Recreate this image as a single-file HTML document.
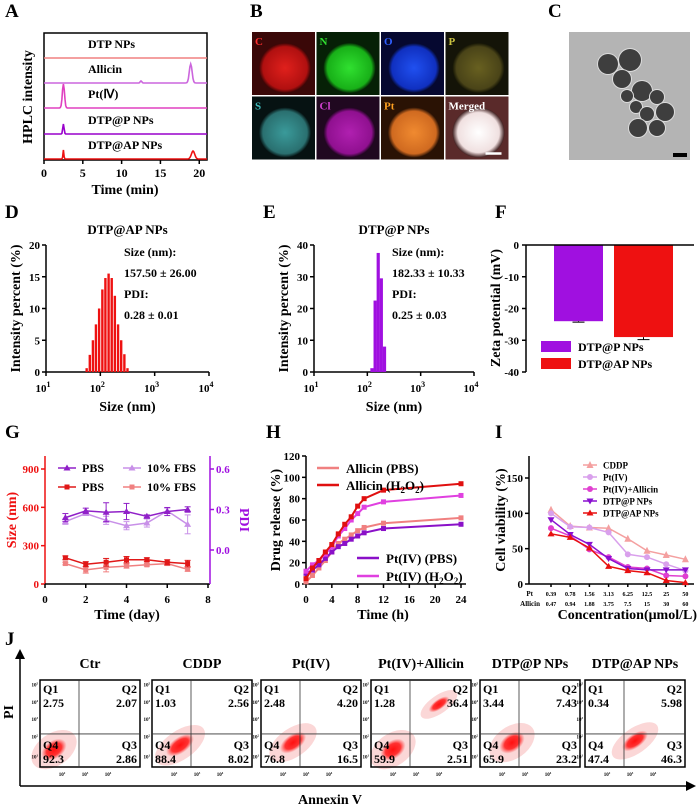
<!DOCTYPE html>
<html><head><meta charset="utf-8"><style>
body{margin:0;background:#fff}
svg{display:block;font-family:"Liberation Serif",serif;font-weight:bold}
</style></head><body>
<svg id="fig" width="700" height="810" viewBox="0 0 700 810" xmlns="http://www.w3.org/2000/svg">
<defs>
<radialGradient id="gR"><stop offset="0" stop-color="#e0201c"/><stop offset="0.85" stop-color="#b01010"/><stop offset="1" stop-color="#3a0505"/></radialGradient>
<radialGradient id="gN"><stop offset="0" stop-color="#30e030"/><stop offset="0.85" stop-color="#18b018"/><stop offset="1" stop-color="#052a05"/></radialGradient>
<radialGradient id="gO"><stop offset="0" stop-color="#2050f0"/><stop offset="0.85" stop-color="#1030c0"/><stop offset="1" stop-color="#05082a"/></radialGradient>
<radialGradient id="gP"><stop offset="0" stop-color="#686020"/><stop offset="0.85" stop-color="#4a4418"/><stop offset="1" stop-color="#151505"/></radialGradient>
<radialGradient id="gS"><stop offset="0" stop-color="#3a9a9a"/><stop offset="0.85" stop-color="#2a7070"/><stop offset="1" stop-color="#061515"/></radialGradient>
<radialGradient id="gCl"><stop offset="0" stop-color="#b020b0"/><stop offset="0.85" stop-color="#901090"/><stop offset="1" stop-color="#200520"/></radialGradient>
<radialGradient id="gPt"><stop offset="0" stop-color="#f08a30"/><stop offset="0.85" stop-color="#d06a20"/><stop offset="1" stop-color="#301505"/></radialGradient>
<radialGradient id="gM"><stop offset="0" stop-color="#ffffff"/><stop offset="0.8" stop-color="#f0e0e0"/><stop offset="1" stop-color="#402020"/></radialGradient>
<radialGradient id="gDot"><stop offset="0" stop-color="#ff1010" stop-opacity="1"/><stop offset="0.6" stop-color="#ff2020" stop-opacity="0.9"/><stop offset="1" stop-color="#ff4040" stop-opacity="0"/></radialGradient>
</defs>
</svg>
<script>
const NS="http://www.w3.org/2000/svg";
const svg=document.getElementById('fig');
function E(tag,a,name,parent){
  const el=document.createElementNS(NS,tag);
  for(const k in a) el.setAttribute(k,a[k]);
  
  
  (parent||svg).appendChild(el);
  return el;
}
function T(x,y,s,size,name,o){
  o=o||{};
  const el=E('text',{x:x,y:y,'font-size':size,fill:o.fill||'#000','text-anchor':o.anchor||'start'},name);
  if(o.rot!==undefined) el.setAttribute('transform','rotate('+o.rot+' '+x+' '+y+')');
  if(o.html) el.innerHTML=s; else el.textContent=s;
  return el;
}
function L(x1,y1,x2,y2,name,c,w){return E('line',{x1:x1,y1:y1,x2:x2,y2:y2,stroke:c||'#000','stroke-width':w||1.5},name);}
function lin(d0,d1,r0,r1){return v=>r0+(v-d0)/(d1-d0)*(r1-r0);}
function poly(pts,c,w,name){return E('polyline',{points:pts.map(p=>p[0].toFixed(1)+','+p[1].toFixed(1)).join(' '),fill:'none',stroke:c,'stroke-width':w||1.5},name);}
function marker(x,y,type,col,name){
  if(type==='tri') E('polygon',{points:(x)+','+(y-3.5)+' '+(x-3.5)+','+(y+2.5)+' '+(x+3.5)+','+(y+2.5),fill:col},name);
  else if(type==='dtri') E('polygon',{points:(x)+','+(y+3.5)+' '+(x-3.5)+','+(y-2.5)+' '+(x+3.5)+','+(y-2.5),fill:col},name);
  else if(type==='circ') E('circle',{cx:x,cy:y,r:3,fill:col},name);
  else if(type==='star') E('polygon',{points:(x)+','+(y-4)+' '+(x-3.5)+','+(y+3)+' '+(x+3.5)+','+(y+3),fill:col},name);
  else E('rect',{x:x-2.5,y:y-2.5,width:5,height:5,fill:col},name);
}

/* ---------- panel letters ---------- */
[['A',5,17],['B',250,17],['C',548,17],['D',5,218],['E',263,218],['F',495,218],['G',5,438],['H',266,438],['I',495,438],['J',5,645]].forEach(p=>T(p[1],p[2],p[0],19,'panel-label-'+p[0].toLowerCase()));

/* ---------- A: HPLC ---------- */
const hplcNames=['DTP NPs','Allicin','Pt(Ⅳ)','DTP@P NPs','DTP@AP NPs'];
const hplcColors=['#f08080','#cc66dd','#e040c0','#9900cc','#ee1111'];
const hplcBase=[58,83,108,134,159];
const hplcPeakTimes=[[],[12.5,18.9],[2.5],[2.5],[2.5,19.2]];
const hplcPeakHeights=[[],[2,19],[24],[10],[9,8]];
const hplcPeakWidths=[[],[0.15,0.25],[0.2],[0.12],[0.08,0.3]];
const hplcTicks=[0,5,10,15,20];
(function(){
  const x=lin(0,21,44,207);
  E('rect',{x:44,y:33,width:163,height:127,fill:'none',stroke:'#000','stroke-width':1.5},'hplc-plot-frame');
  hplcTicks.forEach(t=>{L(x(t),160,x(t),164,'hplc-x-tick');T(x(t),177,String(t),12,'hplc-x-tick-label',{anchor:'middle'});});
  hplcNames.forEach((n,i)=>{
    const pts=[];
    for(let k=0;k<=210;k++){const t=k/10;let h=0;
      hplcPeakTimes[i].forEach((pt,j)=>{h+=hplcPeakHeights[i][j]*Math.exp(-Math.pow((t-pt)/hplcPeakWidths[i][j],2));});
      pts.push([x(t),hplcBase[i]-h]);}
    poly(pts,hplcColors[i],1.6,'hplc-trace-'+i);
    T(88,hplcBase[i]-10,n,12,'hplc-trace-label',{});
  });
  T(125,194,'Time (min)',14,'hplc-x-axis-title',{anchor:'middle'});
  T(32,97,'HPLC intensity',14,'hplc-y-axis-title',{anchor:'middle',rot:-90});
})();

/* ---------- B: EDS mapping ---------- */
const edsLabels=['C','N','O','P','S','Cl','Pt','Merged'];
const edsColors=['#ff3030','#30e030','#3060ff','#c8c040','#40c0c0','#d040d0','#ffa020','#ffffff'];
const edsFills=['gR','gN','gO','gP','gS','gCl','gPt','gM'];
const edsBg=['#3a0808','#062006','#060830','#141408','#061212','#200820','#2a1204','#5a2a2a'];
edsLabels.forEach((lab,i)=>{
  const col=i%4,row=Math.floor(i/4);
  const x0=252+col*64.5,y0=32+row*64.5;
  E('rect',{x:x0,y:y0,width:63,height:63,fill:edsBg[i]},'eds-tile-'+lab.toLowerCase());
  E('ellipse',{cx:x0+33,cy:y0+36,rx:26,ry:25,fill:'url(#'+edsFills[i]+')'},'eds-particle');
  T(x0+3,y0+13,lab,11,'eds-element-label',{fill:edsColors[i]});
  if(lab==='Merged') L(x0+40,y0+57,x0+56,y0+57,'eds-scale-bar','#fff',2.5);
});

/* ---------- C: TEM ---------- */
E('rect',{x:569,y:32,width:121,height:128,fill:'#b4b4b4'},'tem-image');
const temCircles=[[608,64,10],[630,60,11],[622,79,9],[642,91,10],[627,96,6],[657,97,7],[636,107,6],[647,114,7],[665,112,9],[638,128,9],[657,128,8]];
temCircles.forEach(c=>{E('circle',{cx:c[0],cy:c[1],r:c[2]+1,fill:'#dcdcdc'},'tem-halo');E('circle',{cx:c[0],cy:c[1],r:c[2],fill:'#3e3e3e'},'tem-nanoparticle');});
E('rect',{x:673,y:153,width:14,height:4,fill:'#000'},'tem-scale-bar');

/* ---------- D & E: DLS histograms ---------- */
const dlsDSizes=[56,64,73,83,95,109,124,142,162,185,212,242,277,316];
const dlsDValues=[0.6,2.7,5,7.5,10,13,14.8,15.5,14.8,12,7.5,5,2.8,0.6];
const dlsESizes=[122,140,160,183,210];
const dlsEValues=[1.2,22.5,37.5,29.5,8];
function dls(x0,x1,y0,y1,ymax,step,sizes,vals,color,title,texts,pfx,bw){
  const x=v=>x0+(Math.log10(v)-1)/3*(x1-x0);
  const y=lin(0,ymax,y1,y0);
  T((x0+x1)/2,234,title,13,pfx+'-title',{anchor:'middle'});
  L(x0,y0,x0,y1,pfx+'-y-axis');L(x0,y1,x1,y1,pfx+'-x-axis');
  for(let v=0;v<=ymax;v+=step){L(x0-4,y(v),x0,y(v),pfx+'-y-tick');T(x0-6,y(v)+4,String(v),11,pfx+'-y-tick-label',{anchor:'end'});}
  [1,2,3,4].forEach(e=>{L(x(Math.pow(10,e)),y1,x(Math.pow(10,e)),y1+4,pfx+'-x-tick');T(x(Math.pow(10,e))-3,y1+20,'10<tspan dy="-5" font-size="8">'+e+'</tspan>',11,pfx+'-x-tick-label',{anchor:'middle',html:1});});
  sizes.forEach((s,i)=>E('rect',{x:x(s)-bw/2,y:y(vals[i]),width:bw,height:y1-y(vals[i]),fill:color},pfx+'-bar'));
  texts.forEach((t,i)=>T(x0+78,y0+11+i*21,t,12,pfx+'-annotation'));
  T((x0+x1)/2,411,'Size (nm)',14,pfx+'-x-axis-title',{anchor:'middle'});
  T(x0-26,(y0+y1)/2,'Intensity percent (%)',14,pfx+'-y-axis-title',{anchor:'middle',rot:-90});
}
dls(46,209,245,372,20,5,dlsDSizes,dlsDValues,'#ee1111','DTP@AP NPs',['Size (nm):','157.50 ± 26.00','PDI:','0.28 ± 0.01'],'dls-d',2.4);
dls(314,474,245,372,40,10,dlsESizes,dlsEValues,'#a010e0','DTP@P NPs',['Size (nm):','182.33 ± 10.33','PDI:','0.25 ± 0.03'],'dls-e',3.2);

/* ---------- F: Zeta ---------- */
const zetaNames=['DTP@P NPs','DTP@AP NPs'];
const zetaValues=[-24,-29];
const zetaErrors=[0.3,0.8];
const zetaColors=['#a010e0','#ee1111'];
const zetaTicks=[0,-10,-20,-30,-40];
(function(){
  const y=lin(0,-40,245,372);
  const bx=[[554,49],[614,59]];
  zetaValues.forEach((v,i)=>{
    E('rect',{x:bx[i][0],y:y(0),width:bx[i][1],height:y(v)-y(0),fill:zetaColors[i]},'zeta-bar-'+i);
    const cx=bx[i][0]+bx[i][1]/2;
    L(cx,y(v),cx,y(v-zetaErrors[i]),'zeta-error-bar','#000',1);
    L(cx-6,y(v-zetaErrors[i]),cx+6,y(v-zetaErrors[i]),'zeta-error-cap','#000',1);
  });
  L(526,245,526,372,'zeta-y-axis');L(526,245,694,245,'zeta-zero-axis');
  zetaTicks.forEach(t=>{L(522,y(t),526,y(t),'zeta-y-tick');T(519,y(t)+4,String(t),11,'zeta-y-tick-label',{anchor:'end'});});
  zetaNames.forEach((n,i)=>{E('rect',{x:541,y:341+i*17,width:30,height:11,fill:zetaColors[i]},'zeta-legend-swatch');T(578,351+i*17,n,12,'zeta-legend-label');});
  T(500,308,'Zeta potential (mV)',14,'zeta-y-axis-title',{anchor:'middle',rot:-90});
})();

/* ---------- G: stability ---------- */
const stabDays=[1,2,3,4,5,6,7];
const stabPdiPBS=[0.24,0.29,0.28,0.285,0.25,0.285,0.30];
const stabPdiFBS=[0.21,0.27,0.22,0.18,0.20,0.29,0.19];
const stabPdiPBSErr=[0.03,0.02,0.07,0.06,0.01,0.03,0.02];
const stabPdiFBSErr=[0.02,0.01,0.03,0.03,0.03,0.02,0.07];
const stabSizePBS=[205,155,170,190,190,170,160];
const stabSizeFBS=[160,110,130,140,150,160,115];
const stabSizePBSErr=[15,20,30,25,15,20,25];
const stabSizeFBSErr=[10,25,35,15,10,15,15];
const stabLeftTicks=[0,300,600,900];
const stabRightTicks=[0.0,0.3,0.6];
(function(){
  const x=lin(0,8,45,208), yl=lin(0,900,584,469), yr=lin(0,0.6,550,469);
  L(45,456,45,584,'stab-left-axis','#ee1111');L(45,584,210,584,'stab-x-axis');L(210,456,210,584,'stab-right-axis','#a010e0');
  stabLeftTicks.forEach(t=>{L(41,yl(t),45,yl(t),'stab-left-tick','#ee1111');T(39,yl(t)+4,String(t),11,'stab-left-tick-label',{anchor:'end',fill:'#ee1111'});});
  stabRightTicks.forEach(t=>{L(210,yr(t),214,yr(t),'stab-right-tick','#a010e0');T(216,yr(t)+4,t.toFixed(1),11,'stab-right-tick-label',{fill:'#a010e0'});});
  [0,2,4,6,8].forEach(t=>{L(x(t),584,x(t),588,'stab-x-tick');T(x(t),603,String(t),11,'stab-x-tick-label',{anchor:'middle'});});
  function series(vals,errs,ys,col,mk,name){
    const pts=stabDays.map((d,i)=>[x(d),ys(vals[i])]);
    stabDays.forEach((d,i)=>{L(x(d),ys(vals[i]-errs[i]),x(d),ys(vals[i]+errs[i]),name+'-error-bar',col,1);
      L(x(d)-3,ys(vals[i]+errs[i]),x(d)+3,ys(vals[i]+errs[i]),name+'-error-cap',col,1);L(x(d)-3,ys(vals[i]-errs[i]),x(d)+3,ys(vals[i]-errs[i]),name+'-error-cap',col,1);});
    poly(pts,col,1.5,name+'-line');
    pts.forEach(p=>marker(p[0],p[1],mk,col,name+'-point'));
  }
  series(stabPdiFBS,stabPdiFBSErr,yr,'#c890e8','tri','stab-pdi-fbs');
  series(stabPdiPBS,stabPdiPBSErr,yr,'#9020c8','tri','stab-pdi-pbs');
  series(stabSizeFBS,stabSizeFBSErr,yl,'#f08080','sq','stab-size-fbs');
  series(stabSizePBS,stabSizePBSErr,yl,'#e01818','sq','stab-size-pbs');
  [['PBS','#9020c8','tri',58,468],['10% FBS','#c890e8','tri',123,468],['PBS','#e01818','sq',58,487],['10% FBS','#f08080','sq',123,487]].forEach(l=>{
    L(l[3],l[4],l[3]+18,l[4],'stab-legend-line',l[1],1.5);marker(l[3]+9,l[4],l[2],l[1],'stab-legend-marker');T(l[3]+24,l[4]+4,l[0],12,'stab-legend-label');});
  T(127,619,'Time (day)',14,'stab-x-axis-title',{anchor:'middle'});
  T(16,520,'Size (nm)',14,'stab-left-axis-title',{anchor:'middle',rot:-90,fill:'#ee1111'});
  T(240,520,'PDI',14,'stab-right-axis-title',{anchor:'middle',rot:90,fill:'#a010e0'});
})();

/* ---------- H: drug release ---------- */
const relTimes=[0,1,2,3,4,5,6,7,8,9,12,24];
const relAllicinPBS=[2,8,15,22,30,38,42,46,50,53,57,62];
const relAllicinH2O2=[5,15,22,30,37,47,56,63,73,80,88,94];
const relPtPBS=[10,13,18,24,30,35,38,42,45,48,52,56];
const relPtH2O2=[12,18,22,28,35,45,52,60,66,72,77,83];
const relTicksY=[0,20,40,60,80,100,120];
const relTicksX=[0,4,8,12,16,20,24];
(function(){
  const x=lin(0,24,306,461), y=lin(0,120,584,456);
  L(306,456,306,584,'release-y-axis');L(306,584,466,584,'release-x-axis');
  relTicksY.forEach(t=>{L(302,y(t),306,y(t),'release-y-tick');T(300,y(t)+4,String(t),11,'release-y-tick-label',{anchor:'end'});});
  relTicksX.forEach(t=>{L(x(t),584,x(t),588,'release-x-tick');T(x(t),603,String(t),11,'release-x-tick-label',{anchor:'middle'});});
  [[relAllicinPBS,'#f08080','allicin-pbs'],[relPtPBS,'#8a10c8','pt-pbs'],[relPtH2O2,'#e040e0','pt-h2o2'],[relAllicinH2O2,'#e01010','allicin-h2o2']].forEach(s=>{
    const pts=relTimes.map((t,i)=>[x(t),y(s[0][i])]);
    poly(pts,s[1],2,'release-line-'+s[2]);
    pts.forEach(p=>marker(p[0],p[1],'sq',s[1],'release-point-'+s[2]));
  });
  [['Allicin (PBS)','#f08080',317,468],['Allicin (H<tspan dy="3" font-size="9">2</tspan><tspan dy="-3">O</tspan><tspan dy="3" font-size="9">2</tspan><tspan dy="-3">)</tspan>','#e01010',317,485],['Pt(IV) (PBS)','#8a10c8',357,558],['Pt(IV) (H<tspan dy="3" font-size="9">2</tspan><tspan dy="-3">O</tspan><tspan dy="3" font-size="9">2</tspan><tspan dy="-3">)</tspan>','#e040e0',357,576]].forEach(l=>{
    L(l[2],l[3],l[2]+22,l[3],'release-legend-line',l[1],2.5);T(l[2]+29,l[3]+5,l[0],13,'release-legend-label',{html:1});});
  T(383,619,'Time (h)',14,'release-x-axis-title',{anchor:'middle'});
  T(280,520,'Drug release (%)',14,'release-y-axis-title',{anchor:'middle',rot:-90});
})();

/* ---------- I: cell viability ---------- */
const viaPt=['0.39','0.78','1.56','3.13','6.25','12.5','25','50'];
const viaAllicin=['0.47','0.94','1.88','3.75','7.5','15','30','60'];
const viaCDDP=[105,82,80,79,64,47,41,35];
const viaPtIV=[100,81,80,73,42,38,28,19];
const viaPtAllicin=[79,68,49,38,24,22,12,11];
const viaDTPP=[91,70,56,36,22,20,20,20];
const viaDTPAP=[71,66,51,25,19,16,5,2];
const viaTicks=[0,50,100,150];
(function(){
  const x=i=>551+i*19.2, y=lin(0,150,584,478);
  L(529,456,529,584,'viability-y-axis');L(529,584,694,584,'viability-x-axis');
  viaTicks.forEach(t=>{L(525,y(t),529,y(t),'viability-y-tick');T(523,y(t)+4,String(t),11,'viability-y-tick-label',{anchor:'end'});});
  viaPt.forEach((p,i)=>{L(x(i),584,x(i),587,'viability-x-tick');T(x(i),596,p,6,'viability-pt-label',{anchor:'middle'});T(x(i),606,viaAllicin[i],6,'viability-allicin-label',{anchor:'middle'});});
  T(533,596,'Pt',7,'viability-pt-row-title',{anchor:'end'});T(540,606,'Allicin',7,'viability-allicin-row-title',{anchor:'end'});
  const ser=[[viaCDDP,'#f4a0a0','star','CDDP'],[viaPtIV,'#d9a0ec','circ','Pt(IV)'],[viaPtAllicin,'#e040d0','circ','Pt(IV)+Allicin'],[viaDTPP,'#8a10d0','dtri','DTP@P NPs'],[viaDTPAP,'#e81010','tri','DTP@AP NPs']];
  ser.forEach((s,k)=>{
    const pts=s[0].map((v,i)=>[x(i),y(v)]);
    poly(pts,s[1],1.5,'viability-line');
    pts.forEach(p=>marker(p[0],p[1],s[2],s[1],'viability-point'));
    const ly=465+k*12;
    L(583,ly,597,ly,'viability-legend-line',s[1],1.5);marker(590,ly,s[2],s[1],'viability-legend-marker');
    T(603,ly+3.5,s[3],9,'viability-legend-label');
  });
  T(697,619,'Concentration(μmol/L)',14,'viability-x-axis-title',{anchor:'end'});
  T(505,520,'Cell viability (%)',14,'viability-y-axis-title',{anchor:'middle',rot:-90});
})();

/* ---------- J: flow cytometry ---------- */
const flowTitles=['Ctr','CDDP','Pt(IV)','Pt(IV)+Allicin','DTP@P NPs','DTP@AP NPs'];
const flowQ1=['2.75','1.03','2.48','1.28','3.44','0.34'];
const flowQ2=['2.07','2.56','4.20','36.4','7.43','5.98'];
const flowQ3=['2.86','8.02','16.5','2.51','23.2','46.3'];
const flowQ4=['92.3','88.4','76.8','59.9','65.9','47.4'];
const flowBlobs=[[[0.14,0.80,14,9]],[[0.28,0.75,16,8]],[[0.32,0.72,15,8]],[[0.22,0.80,14,9],[0.68,0.28,12,5]],[[0.32,0.72,14,9]],[[0.50,0.70,15,7]]];
(function(){
  const bxs=[40,152,261,371,480,585], bw=100, by=680, bh=87;
  L(20,786,690,786,'j-x-axis-arrow','#000',1.5);E('polygon',{points:'696,786 686,781 686,791',fill:'#000'},'j-x-arrowhead');
  L(20,786,20,655,'j-y-axis-arrow','#000',1.5);E('polygon',{points:'20,649 15,659 25,659',fill:'#000'},'j-y-arrowhead');
  flowTitles.forEach((t,i)=>{
    const x0=bxs[i];
    T(x0+bw/2,668,t,14,'flow-title',{anchor:'middle'});
    flowBlobs[i].forEach(b=>{
      const cx=x0+b[0]*bw, cy=by+b[1]*bh;
      E('ellipse',{cx:cx,cy:cy,rx:b[2]*1.8,ry:b[3]*1.8,fill:'#f06060',opacity:0.25,transform:'rotate(-35 '+cx+' '+cy+')'},'flow-scatter-halo');
      E('ellipse',{cx:cx,cy:cy,rx:b[2],ry:b[3],fill:'url(#gDot)',transform:'rotate(-35 '+cx+' '+cy+')'},'flow-scatter-cluster');
    });
    E('rect',{x:x0,y:by,width:bw,height:bh,fill:'none',stroke:'#000','stroke-width':1.5},'flow-plot-frame');
    L(x0+bw*0.39,by,x0+bw*0.39,by+bh,'flow-gate-vertical','#333',0.8);
    L(x0,by+bh*0.62,x0+bw,by+bh*0.62,'flow-gate-horizontal','#333',0.8);
    T(x0+3,by+13,'Q1',12,'flow-q1-label');T(x0+3,by+27,flowQ1[i],12,'flow-q1-value');
    T(x0+bw-3,by+13,'Q2',12,'flow-q2-label',{anchor:'end'});T(x0+bw-3,by+27,flowQ2[i],12,'flow-q2-value',{anchor:'end'});
    T(x0+3,by+69,'Q4',12,'flow-q4-label');T(x0+3,by+83,flowQ4[i],12,'flow-q4-value');
    T(x0+bw-3,by+69,'Q3',12,'flow-q3-label',{anchor:'end'});T(x0+bw-3,by+83,flowQ3[i],12,'flow-q3-value',{anchor:'end'});
    [0.22,0.45,0.68].forEach((f,k)=>T(x0+bw*f,by+bh+9,'10<tspan dy="-2" font-size="3">'+(k+2)+'</tspan>',5,'flow-x-tick-label',{anchor:'middle',html:1}));
    [0.05,0.25,0.45,0.65,0.88].forEach((f,k)=>T(x0-2,by+bh*f+2,'10<tspan dy="-2" font-size="3">'+(5-k)+'</tspan>',5,'flow-y-tick-label',{anchor:'end',html:1}));
  });
  T(330,804,'Annexin V',14,'j-x-axis-title',{anchor:'middle'});
  T(13,712,'PI',14,'j-y-axis-title',{anchor:'middle',rot:-90});
})();
</script>
</body></html>
